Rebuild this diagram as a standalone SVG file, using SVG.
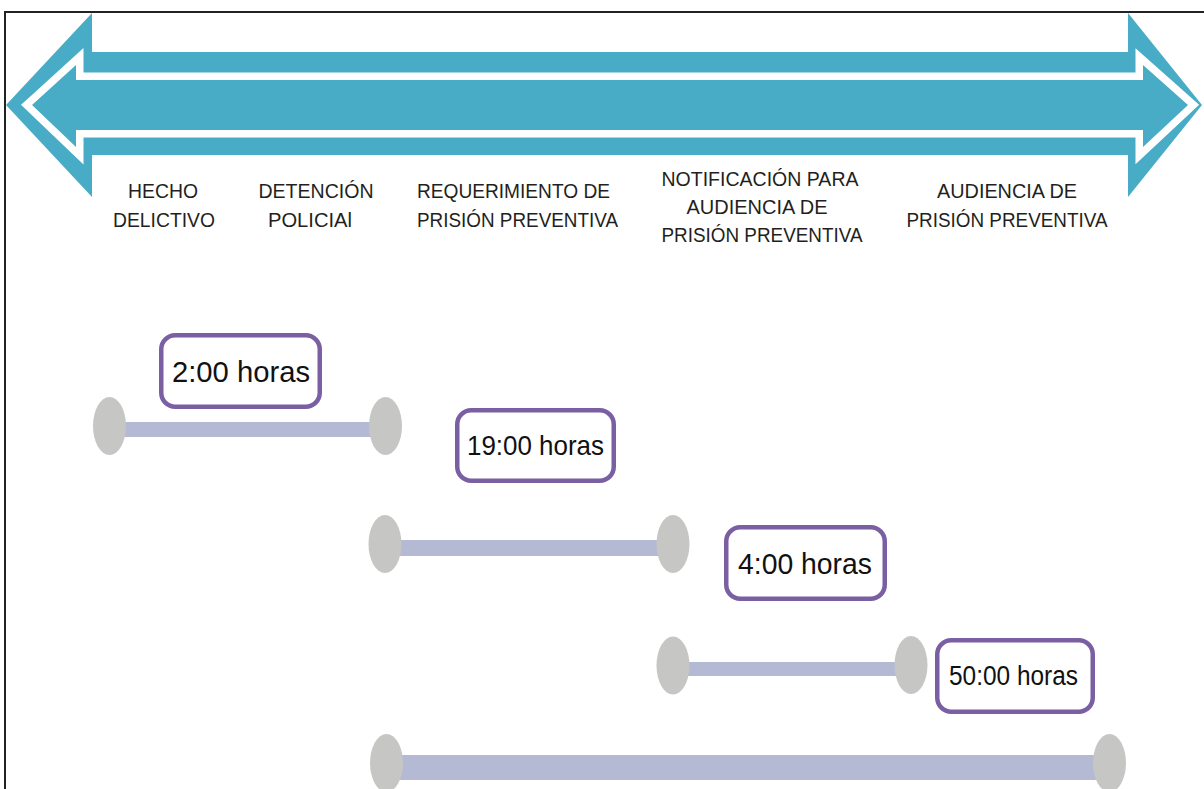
<svg xmlns="http://www.w3.org/2000/svg" width="1204" height="789" viewBox="0 0 1204 789">
<style>
.lbl{font-family:"Liberation Sans",Arial,sans-serif;font-size:20px;fill:#231f20}
.dur{font-family:"Liberation Sans",Arial,sans-serif;fill:#111;text-anchor:middle}
.box{fill:#fff;stroke:#7a5fa3;stroke-width:4.5}
.dot{fill:#c6c6c5}
.bar{fill:#b4b9d4}
</style>
<defs>
<polygon id="inner" points="32,105 76,65 76,80 1143,80 1143,65 1188,105 1143,147 1143,130 76,130 76,147"/>
</defs>
<rect width="1204" height="789" fill="#fff"/>
<path d="M5,789 V12 H1204" fill="none" stroke="#222" stroke-width="2"/>
<g id="timeline-arrow">
<polygon points="6,105 92,13 92,52 1128,52 1128,13 1202,105 1128,197 1128,155 92,155 92,197" fill="#48acc6"/>
<use href="#inner" fill="#fff" stroke="#fff" stroke-width="15" stroke-linejoin="miter"/>
<use href="#inner" fill="#48acc6"/>
</g>
<g id="stage-hecho" class="lbl" text-anchor="middle">
<text x="163" y="198" textLength="70" lengthAdjust="spacingAndGlyphs">HECHO</text>
<text x="164" y="227" textLength="102" lengthAdjust="spacingAndGlyphs">DELICTIVO</text>
</g>
<g id="stage-detencion" class="lbl" text-anchor="middle">
<text x="316" y="198" textLength="115" lengthAdjust="spacingAndGlyphs">DETENCIÓN</text>
<text x="310" y="227" textLength="84" lengthAdjust="spacingAndGlyphs">POLICIAl</text>
</g>
<g id="stage-requerimiento" class="lbl">
<text x="417" y="198" textLength="193" lengthAdjust="spacingAndGlyphs">REQUERIMIENTO DE</text>
<text x="417" y="227" textLength="201" lengthAdjust="spacingAndGlyphs">PRISIÓN PREVENTIVA</text>
</g>
<g id="stage-notificacion" class="lbl" text-anchor="middle">
<text x="760" y="186" textLength="197" lengthAdjust="spacingAndGlyphs">NOTIFICACIÓN PARA</text>
<text x="757" y="214" textLength="141" lengthAdjust="spacingAndGlyphs">AUDIENCIA DE</text>
<text x="762" y="242" textLength="201" lengthAdjust="spacingAndGlyphs">PRISIÓN PREVENTIVA</text>
</g>
<g id="stage-audiencia" class="lbl" text-anchor="middle">
<text x="1007" y="198" textLength="140" lengthAdjust="spacingAndGlyphs">AUDIENCIA DE</text>
<text x="1007" y="227" textLength="201" lengthAdjust="spacingAndGlyphs">PRISIÓN PREVENTIVA</text>
</g>
<g id="connectors">
<rect class="bar" x="109" y="422" width="277" height="15"/>
<rect class="bar" x="385" y="540" width="288" height="16"/>
<rect class="bar" x="673" y="662" width="238" height="14"/>
<rect class="bar" x="387" y="755" width="723" height="25"/>
</g>
<g id="dots">
<ellipse class="dot" cx="109.5" cy="426" rx="16.5" ry="29"/>
<ellipse class="dot" cx="385.5" cy="426" rx="16.5" ry="29"/>
<ellipse class="dot" cx="385" cy="544" rx="16.5" ry="29"/>
<ellipse class="dot" cx="673" cy="544" rx="16.5" ry="29"/>
<ellipse class="dot" cx="673" cy="665.5" rx="16.5" ry="29"/>
<ellipse class="dot" cx="911" cy="665" rx="16.5" ry="29"/>
<ellipse class="dot" cx="386.5" cy="763" rx="16.5" ry="29"/>
<ellipse class="dot" cx="1109.5" cy="763" rx="16.5" ry="29"/>
</g>
<g id="dur-2">
<rect class="box" x="161.25" y="335.25" width="158.5" height="71.5" rx="14"/>
<text class="dur" x="241" y="382" font-size="30" textLength="138" lengthAdjust="spacingAndGlyphs">2:00 horas</text>
</g>
<g id="dur-19">
<rect class="box" x="457.25" y="410.25" width="156.5" height="70.5" rx="14"/>
<text class="dur" x="535.5" y="455" font-size="28" textLength="137" lengthAdjust="spacingAndGlyphs">19:00 horas</text>
</g>
<g id="dur-4">
<rect class="box" x="726.25" y="527.25" width="158.5" height="71.5" rx="14"/>
<text class="dur" x="805" y="574" font-size="30" textLength="134" lengthAdjust="spacingAndGlyphs">4:00 horas</text>
</g>
<g id="dur-50">
<rect class="box" x="937.25" y="640.25" width="155.5" height="71.5" rx="14"/>
<text class="dur" x="1013.5" y="685" font-size="27" textLength="129" lengthAdjust="spacingAndGlyphs">50:00 horas</text>
</g>
</svg>
